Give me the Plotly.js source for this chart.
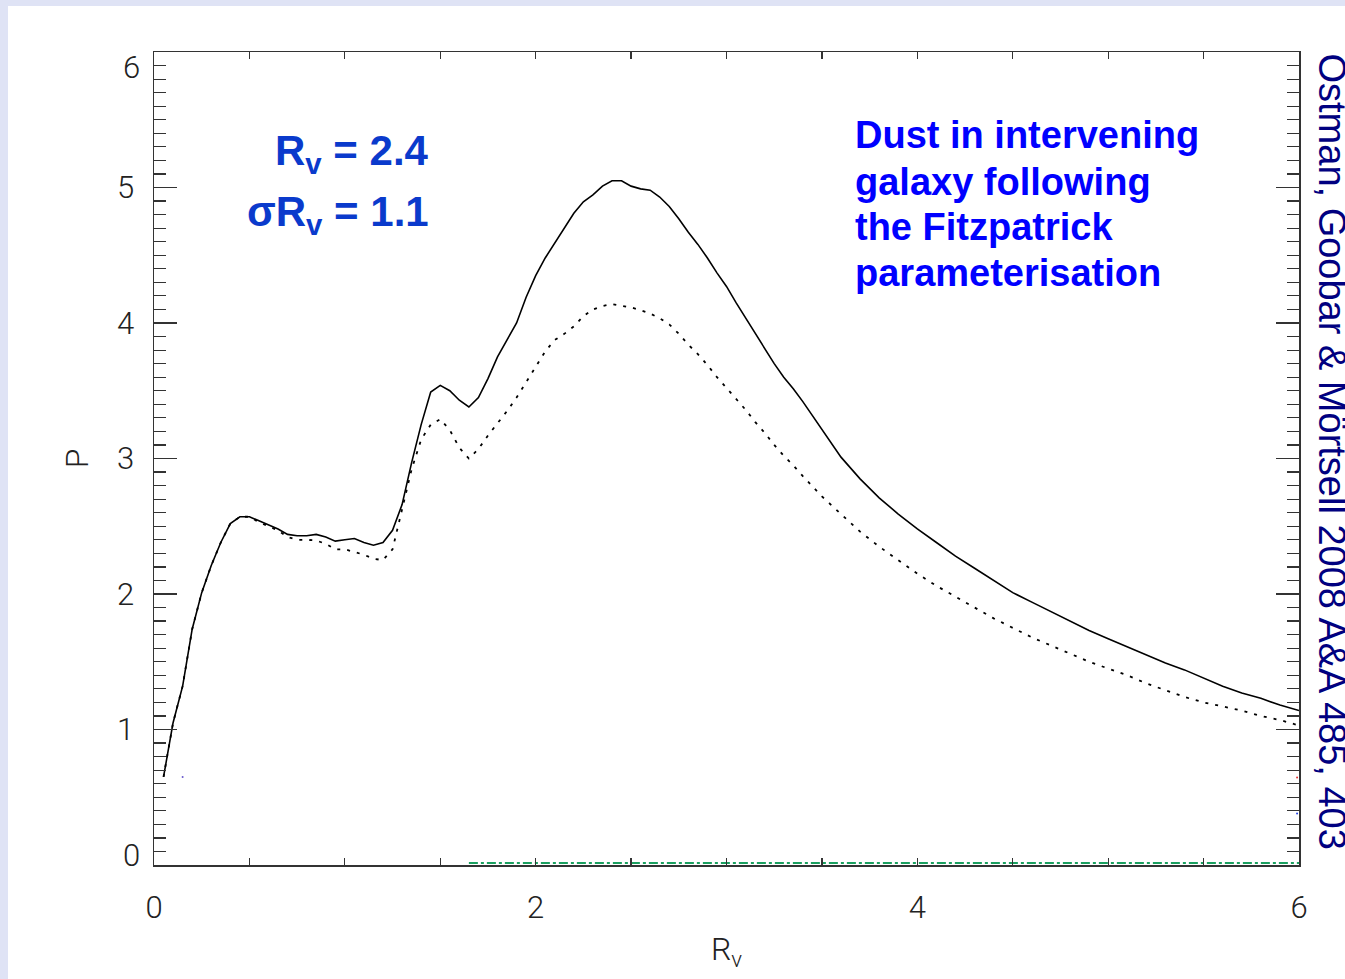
<!DOCTYPE html>
<html>
<head>
<meta charset="utf-8">
<script src="https://cdn.plot.ly/plotly-3.0.1.min.js"></script>
<style>
  html, body { margin:0; padding:0; width:1345px; height:979px; overflow:hidden; background:#dfe3f5; }
  #sheet { position:absolute; left:8px; top:6px; width:1337px; height:973px; background:#ffffff; }
  #plot { position:absolute; left:0; top:0; width:1345px; height:979px; }
</style>
</head>
<body>
<div id="sheet"></div>
<div id="plot"></div>
<script>
// R_v grid
const rv = [0.05,0.10,0.15,0.20,0.25,0.30,0.35,0.40,0.45,0.50,0.55,0.60,0.65,0.70,0.75,0.80,0.85,0.90,0.95,1.00,
  1.05,1.10,1.15,1.20,1.25,1.30,1.35,1.40,1.45,1.50,1.55,1.60,1.65,1.70,1.75,1.80,1.85,1.90,1.95,2.00,
  2.05,2.10,2.15,2.20,2.25,2.30,2.35,2.40,2.45,2.50,2.55,2.60,2.65,2.70,2.75,2.80,2.85,2.90,2.95,3.00,
  3.05,3.10,3.15,3.20,3.25,3.30,3.35,3.40,3.50,3.60,3.70,3.80,3.90,4.00,4.10,4.20,4.30,4.40,4.50,4.60,
  4.70,4.80,4.90,5.00,5.10,5.20,5.30,5.40,5.50,5.60,5.70,5.80,5.90,6.00];
// solid curve
const pSolid = [0.65,1.05,1.32,1.74,2.01,2.21,2.38,2.52,2.57,2.57,2.54,2.51,2.48,2.44,2.43,2.43,2.44,2.42,2.39,2.40,
  2.41,2.38,2.36,2.38,2.47,2.66,2.97,3.25,3.49,3.54,3.50,3.43,3.38,3.45,3.59,3.75,3.875,4.00,4.19,4.35,
  4.48,4.59,4.71,4.81,4.895,4.945,5.01,5.05,5.05,5.01,4.99,4.98,4.93,4.86,4.77,4.67,4.58,4.48,4.37,4.27,
  4.15,4.035,3.92,3.81,3.70,3.60,3.515,3.42,3.21,3.01,2.85,2.71,2.59,2.48,2.38,2.28,2.19,2.10,2.01,1.94,
  1.87,1.80,1.73,1.67,1.61,1.55,1.49,1.44,1.38,1.32,1.27,1.23,1.18,1.14];
// dotted curve
const pDotted = [0.65,1.05,1.32,1.74,2.01,2.21,2.38,2.52,2.57,2.57,2.53,2.50,2.47,2.42,2.40,2.40,2.395,2.37,2.33,2.33,
  2.31,2.29,2.26,2.25,2.33,2.63,2.92,3.14,3.25,3.29,3.21,3.08,3.00,3.07,3.17,3.26,3.35,3.45,3.56,3.68,
  3.79,3.875,3.92,3.975,4.05,4.10,4.125,4.14,4.13,4.115,4.095,4.07,4.035,3.99,3.92,3.84,3.77,3.69,3.60,3.52,
  3.445,3.36,3.27,3.19,3.10,3.02,2.95,2.87,2.72,2.59,2.46,2.35,2.25,2.15,2.06,1.98,1.90,1.82,1.75,1.68,
  1.62,1.56,1.50,1.45,1.40,1.34,1.29,1.24,1.20,1.17,1.14,1.10,1.07,1.03];
// faint dash-dot green line along the bottom
const rvGreen = [1.65, 6.0];
const pGreen = [0.015, 0.015];
// stray tiny marks
const rvDots = [0.15, 5.99, 5.99];
const pDots = [0.65, 0.645, 0.38];
const dotColors = ['#6a5acd', '#e03030', '#2040e0'];

const yTickVals = [1,2,3,4,5];
const xTickVals = [0,2,4,6];

const noteLines = ['Dust in intervening', 'galaxy following', 'the Fitzpatrick', 'parameterisation'];
const noteY = [5.39, 5.04, 4.71, 4.37];

const tickFont = {family:'Roboto, "Liberation Sans", sans-serif', size:31, color:'#222', weight:300};
const boldBlue = {family:'"Liberation Sans", Arial, sans-serif', size:42, color:'#0a3acc'};
const noteFont = {family:'"Liberation Sans", Arial, sans-serif', size:38, color:'#0000ff'};

const traces = [
  {x: rv, y: pSolid, type:'scatter', mode:'lines', line:{color:'#000', width:1.6}, hoverinfo:'skip'},
  {x: rv, y: pDotted, type:'scatter', mode:'lines', line:{color:'#000', width:1.8, dash:'3px,7px'}, hoverinfo:'skip'},
  {x: rvGreen, y: pGreen, type:'scatter', mode:'lines', line:{color:'#1aa060', width:2, dash:'dashdot'}, hoverinfo:'skip'},
  {x: rvDots, y: pDots, type:'scatter', mode:'markers', marker:{color:dotColors, size:2}, hoverinfo:'skip'}
];

const annotations = [
  // end labels drawn inside the axis range, like the original
  {xref:'paper', yref:'y', x:0, y:0, text:'0', showarrow:false, xanchor:'right', yanchor:'middle', xshift:-12, yshift:10, font:tickFont},
  {xref:'paper', yref:'y', x:0, y:6, text:'6', showarrow:false, xanchor:'right', yanchor:'middle', xshift:-12, yshift:-15, font:tickFont},
  {xref:'x', yref:'y', x:1.45, y:5.25, text:'<b>R<sub>v</sub> = 2.4</b>', showarrow:false, xanchor:'right', yanchor:'middle', font:boldBlue},
  {xref:'x', yref:'y', x:1.45, y:4.80, text:'<b>σR<sub>v</sub> = 1.1</b>', showarrow:false, xanchor:'right', yanchor:'middle', font:boldBlue},
  {xref:'paper', yref:'paper', x:1.0, y:0.5, xshift:33, yshift:7, text:'Ostman, Goobar & Mörtsell 2008 A&A 485, 403',
   showarrow:false, textangle:90, xanchor:'center', yanchor:'middle',
   font:{family:'"Liberation Sans", Arial, sans-serif', size:38, color:'#000080'}}
];
noteLines.forEach((t, i) => annotations.push({
  xref:'x', yref:'y', x:3.665, y:noteY[i], text:'<b>' + t + '</b>', showarrow:false,
  xanchor:'left', yanchor:'middle', align:'left', font:noteFont
}));

const layout = {
  width:1345, height:979,
  margin:{l:154, r:46, t:52, b:114},
  paper_bgcolor:'rgba(0,0,0,0)', plot_bgcolor:'rgba(0,0,0,0)',
  showlegend:false,
  xaxis:{
    range:[0,6], showgrid:false, zeroline:false,
    showline:true, linecolor:'#333', linewidth:1.5, mirror:'ticks',
    ticks:'inside', ticklen:7, tickcolor:'#333', tickwidth:1.2,
    tickvals:xTickVals, ticktext:xTickVals.map(String),
    tickfont:tickFont, ticklabelstandoff:14,
    minor:{dtick:0.5, tick0:0, ticks:'inside', ticklen:7, tickcolor:'#333', tickwidth:1.2, showgrid:false},
    title:{text:'R<sub>v</sub>', font:{family:'Roboto, "Liberation Sans", sans-serif', size:32, color:'#222', weight:300}, standoff:13}
  },
  yaxis:{
    range:[0,6], showgrid:false, zeroline:false,
    showline:true, linecolor:'#333', linewidth:1.5, mirror:'ticks',
    ticks:'inside', ticklen:23, tickcolor:'#333', tickwidth:1.2,
    tickvals:yTickVals, ticktext:yTickVals.map(String),
    tickfont:tickFont, ticklabelstandoff:12,
    minor:{dtick:0.1, tick0:0, ticks:'inside', ticklen:12, tickcolor:'#333', tickwidth:1.2, showgrid:false},
    title:{text:'P', font:{family:'Roboto, "Liberation Sans", sans-serif', size:32, color:'#222', weight:300}, standoff:19}
  },
  annotations: annotations
};

Plotly.newPlot('plot', traces, layout, {staticPlot:true, displayModeBar:false});
</script>
</body>
</html>
